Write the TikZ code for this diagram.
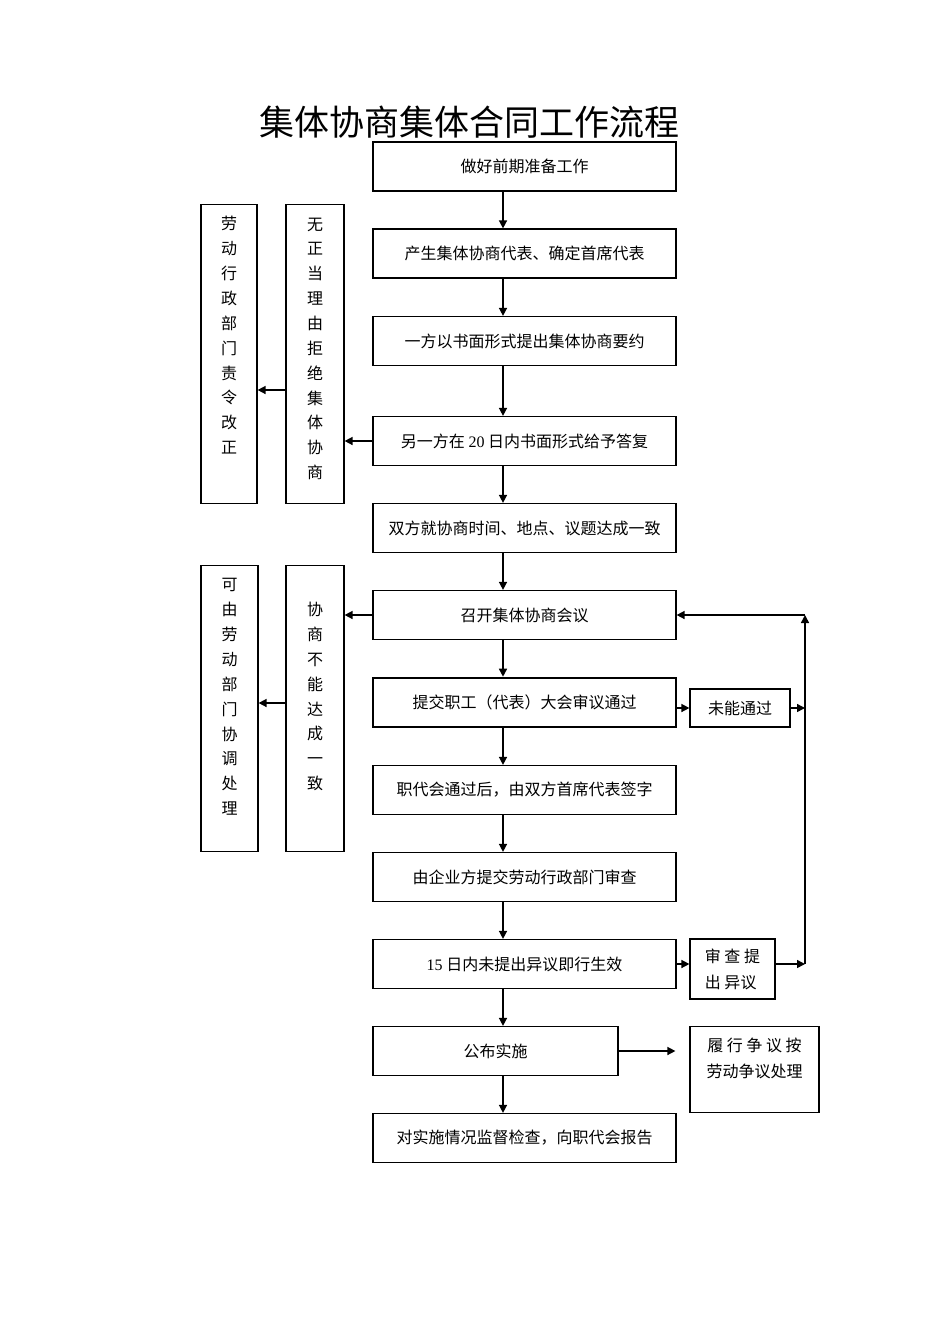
\documentclass[tikz,border=0pt]{standalone}
\usepackage{fontspec}
\setmainfont{Noto Sans CJK SC}
\newfontfamily\lat{Liberation Serif}
\usetikzlibrary{arrows.meta,positioning}

\tikzset{
  stepbox/.style={draw, line width=1.2pt, minimum width=303pt, minimum height=49pt,
    inner sep=0pt, font=\fontsize{16}{20}\selectfont},
  sidebox/.style={draw, line width=1.2pt, inner xsep=0pt, inner ysep=0pt, align=center,
    font=\fontsize{16}{24.85}\selectfont},
  notebox/.style={draw, line width=1.2pt, inner sep=0pt, align=left,
    font=\fontsize{16}{26}\selectfont},
  arr/.style={line width=1.5pt, -{Triangle[length=8pt,width=8pt]}},
}

\begin{document}
\begin{tikzpicture}[x=1pt,y=-1pt]
  \useasboundingbox (0,0) rectangle (950,1344);

  \node[font=\fontsize{35}{40}\selectfont] (title) at (469,122) {集体协商集体合同工作流程};

  % main column
  \node[stepbox] (prep)   at (524.5,166.5) {做好前期准备工作};
  \node[stepbox] (rep)    at (524.5,253.5) {产生集体协商代表、确定首席代表};
  \node[stepbox] (offer)  at (524.5,341)   {一方以书面形式提出集体协商要约};
  \node[stepbox] (reply)  at (524.5,441)   {另一方在 {\lat 20} 日内书面形式给予答复};
  \node[stepbox] (agree)  at (524.5,528)   {双方就协商时间、地点、议题达成一致};
  \node[stepbox] (meet)   at (524.5,615)   {召开集体协商会议};
  \node[stepbox, line width=2.6pt] (vote) at (524.5,702.5) {提交职工（代表）大会审议通过};
  \node[stepbox] (sign)   at (524.5,790)   {职代会通过后，由双方首席代表签字};
  \node[stepbox] (check)  at (524.5,877)   {由企业方提交劳动行政部门审查};
  \node[stepbox] (valid)  at (524.5,964)   {{\lat 15} 日内未提出异议即行生效};
  \node[stepbox, minimum width=245pt] (publish) at (495.5,1051) {公布实施};
  \node[stepbox] (report) at (524.5,1138)  {对实施情况监督检查，向职代会报告};

  % left column
  \node[sidebox, minimum width=56pt, text height=249pt, text depth=50pt, anchor=north]
    (order) at (229,204) {劳\\动\\行\\政\\部\\门\\责\\令\\改\\正};
  \node[sidebox, minimum width=58pt, text height=274pt, text depth=25pt, anchor=north]
    (refuse) at (315,204) {无\\正\\当\\理\\由\\拒\\绝\\集\\体\\协\\商};
  \node[sidebox, minimum width=57pt, text height=249pt, text depth=37pt, anchor=north]
    (mediate) at (229.5,565) {可\\由\\劳\\动\\部\\门\\协\\调\\处\\理};
  \node[sidebox, minimum width=58pt, text height=224pt, text depth=62pt, anchor=north]
    (nodeal) at (315,565) {协\\商\\不\\能\\达\\成\\一\\致};

  % right column
  \node[notebox, minimum width=100pt, minimum height=38pt, align=center] (fail) at (740,708) {未能通过};
  \node[notebox, minimum width=85pt, minimum height=60pt] (object) at (732.5,969) {审 查 提\\出 异议};
  \node[notebox, minimum width=129pt, text height=51pt, text depth=35pt, align=center, anchor=north]
    (dispute) at (754.5,1026) {履 行 争 议 按\\劳动争议处理};

  \coordinate (ax) at (503,0);
  \coordinate (up) at (805,615);
  \coordinate (down) at (805,964);
  \coordinate (y1) at (0,390);
  \coordinate (y2) at (0,703);

  \foreach \a/\b in {prep/rep, rep/offer, offer/reply, reply/agree, agree/meet, meet/vote,
                     vote/sign, sign/check, check/valid, valid/publish, publish/report}
    \draw[arr] (\a.south -| ax) -- (\b.north -| ax);

  \draw[arr] (reply.west) -- (reply.west -| refuse.east);
  \draw[arr] (refuse.west |- y1) -- (order.east |- y1);
  \draw[arr] (meet.west) -- (meet.west -| nodeal.east);
  \draw[arr] (nodeal.west |- y2) -- (mediate.east |- y2);

  \draw[arr] (vote.east |- fail.west) -- (fail.west);
  \draw[arr] (fail.east) -- (fail.east -| up);
  \draw[arr] (valid.east) -- (valid.east -| object.west);
  \draw[arr] (object.east |- down) -- (down);
  \draw[arr] (down) -- (up);
  \draw[arr] (up) -- (meet.east);
  \draw[arr] (publish.east) -- ([xshift=-14pt]publish.east -| dispute.west);
\end{tikzpicture}
\end{document}
